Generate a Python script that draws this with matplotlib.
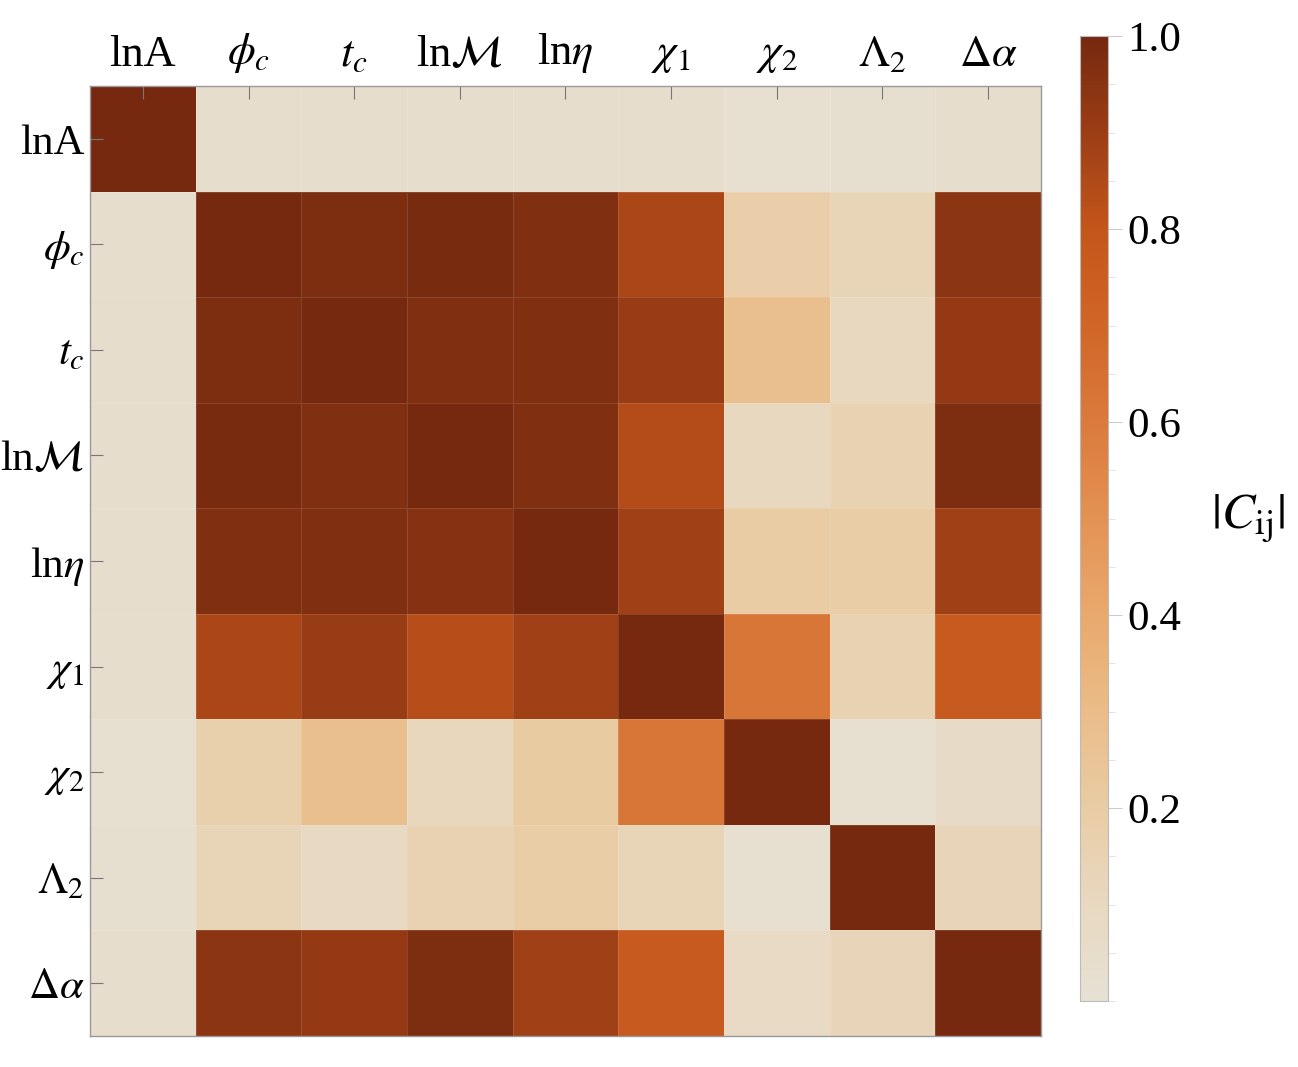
import numpy as np
import matplotlib
matplotlib.use("Agg")
import matplotlib.pyplot as plt
import matplotlib.colors as colors
from matplotlib.ticker import MultipleLocator

plt.rcParams["font.family"] = ["Liberation Serif", "DejaVu Serif"]
plt.rcParams["mathtext.fontset"] = "stix"

# -- parameter labels
params = ["lnA", r"$\phi_c$", r"$t_c$", r"ln$\mathcal{M}$", r"ln$\eta$",
          r"$\chi_1$", r"$\chi_2$", r"$\Lambda_2$", r"$\Delta\alpha$"]

# -- |C_ij|, one row per parameter
row_lnA   = [1.00, 0.04, 0.04, 0.04, 0.04, 0.04, 0.03, 0.02, 0.04]
row_phic  = [0.04, 1.00, 0.98, 0.99, 0.97, 0.86, 0.18, 0.14, 0.94]
row_tc    = [0.04, 0.98, 1.00, 0.97, 0.97, 0.91, 0.28, 0.10, 0.92]
row_lnM   = [0.04, 0.99, 0.97, 1.00, 0.97, 0.84, 0.10, 0.15, 0.98]
row_lneta = [0.04, 0.97, 0.97, 0.96, 1.00, 0.89, 0.20, 0.19, 0.89]
row_chi1  = [0.04, 0.86, 0.91, 0.83, 0.89, 1.00, 0.62, 0.15, 0.77]
row_chi2  = [0.03, 0.17, 0.28, 0.11, 0.21, 0.62, 1.00, 0.03, 0.07]
row_lam2  = [0.02, 0.14, 0.09, 0.15, 0.19, 0.14, 0.03, 1.00, 0.13]
row_dalph = [0.04, 0.94, 0.92, 0.98, 0.89, 0.77, 0.08, 0.13, 1.00]

corr = np.array([row_lnA, row_phic, row_tc, row_lnM, row_lneta,
                 row_chi1, row_chi2, row_lam2, row_dalph])

# -- colour map (beige -> tan -> orange -> dark brown)
clrs = ["#e6e1d4", "#e8d8c0", "#e9cca4", "#eabc88", "#e9a96c", "#e39254",
        "#da7a3c", "#d06628", "#c4561a", "#9c3e16", "#76290f"]
cmap = colors.LinearSegmentedColormap.from_list("brown", clrs, 256)

W, H = 1298, 1067
fig = plt.figure(figsize=(W/100., H/100.), dpi=100)
ax  = fig.add_axes([90/W, (H-1036)/H, 951/W, 950/H])
cax = fig.add_axes([1080/W, (H-1001)/H, 28/W, 965/H])

n  = len(params)
im = ax.pcolormesh(np.arange(n+1), np.arange(n+1), corr, cmap=cmap,
                   vmin=0.0, vmax=1.0, edgecolor=(1, 1, 1, 0.12), linewidth=0.6)
ax.set_xlim(0, n)
ax.set_ylim(n, 0)

ax.xaxis.tick_top()
ax.set_xticks(np.arange(n) + 0.5)
ax.set_yticks(np.arange(n) + 0.5)
ax.set_xticklabels(params, fontsize=32)
ax.set_yticklabels(params, fontsize=31)
ax.tick_params(axis="x", direction="in", length=9, color="#777777", width=0.8, pad=8)
ax.tick_params(axis="y", direction="in", length=9, color="#777777", width=0.8, pad=4)
for sp in ax.spines.values():
    sp.set_color("#999999")
    sp.set_linewidth(1.0)

# -- colour bar
cb = fig.colorbar(im, cax=cax)
cb.set_ticks([0.2, 0.4, 0.6, 0.8, 1.0])
cb.ax.yaxis.set_minor_locator(MultipleLocator(0.05))
cb.ax.tick_params(which="major", labelsize=31, length=10, color="#cccccc", pad=4)
cb.ax.tick_params(which="minor", length=5, color="#dddddd")
cb.outline.set_edgecolor("#bbbbbb")
cb.set_label(r"$|C_{\mathrm{ij}}|$", rotation=0, fontsize=36, labelpad=48,
             va="center")

fig.savefig("out.png", dpi=100)
